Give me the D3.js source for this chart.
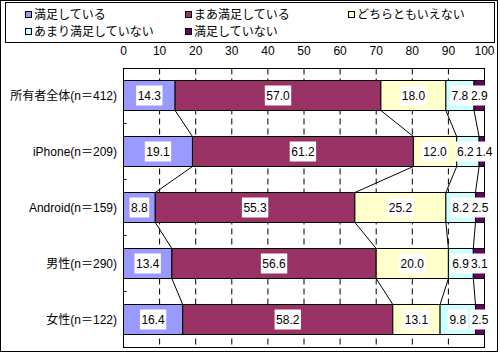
<!DOCTYPE html>
<html>
<head>
<meta charset="utf-8">
<script src="https://cdn.jsdelivr.net/npm/d3@7"></script>
<style>
  body { margin: 0; background: #fff; }
  svg text { font-family: "Liberation Sans", "Noto Sans CJK JP", sans-serif; font-size: 12px; fill: #000; }
</style>
</head>
<body>
<svg id="chart" width="500" height="353"></svg>
<script>
// categories (top to bottom)
const categories = ["所有者全体(n＝412)", "iPhone(n＝209)", "Android(n＝159)", "男性(n＝290)", "女性(n＝122)"];
const seriesNames = ["満足している", "まあ満足している", "どちらともいえない", "あまり満足していない", "満足していない"];
const seriesColors = ["#9999ff", "#993366", "#ffffcc", "#ccffff", "#660066"];

// percentages per category, one array per series
const satisfied     = [14.3, 19.1, 8.8, 13.4, 16.4];
const fairly        = [57.0, 61.2, 55.3, 56.6, 58.2];
const neutral       = [18.0, 12.0, 25.2, 20.0, 13.1];
const notReally     = [7.8, 6.2, 8.2, 6.9, 9.8];
const notSatisfied  = [2.9, 1.4, 2.5, 3.1, 2.5];
const tickValues = [0, 10, 20, 30, 40, 50, 60, 70, 80, 90, 100];

const series = [satisfied, fairly, neutral, notReally, notSatisfied];

const svg = d3.select("#chart");

// outer frame
svg.append("rect")
    .attr("x", 0.5).attr("y", 0.5)
    .attr("width", 497).attr("height", 351)
    .attr("fill", "#fff").attr("stroke", "#000");

// legend
const legend = svg.append("g");
legend.append("rect")
    .attr("x", 5.5).attr("y", 2.5)
    .attr("width", 489).attr("height", 40)
    .attr("fill", "#fff").attr("stroke", "#000");

const legendPos = [[25, 15], [185, 15], [348, 15], [25, 32], [185, 32]];
seriesNames.forEach((name, i) => {
    const g = legend.append("g").attr("transform", `translate(${legendPos[i][0]}, ${legendPos[i][1]})`);
    g.append("rect")
        .attr("x", 0.5).attr("y", -3.5)
        .attr("width", 6).attr("height", 6)
        .attr("fill", seriesColors[i]).attr("stroke", "#000");
    g.append("text")
        .attr("x", 9).attr("y", 0)
        .attr("dominant-baseline", "central")
        .text(name);
});

// scales
const x = d3.scaleLinear().domain([0, 100]).range([123, 484]);
const y = d3.scaleBand()
    .domain(categories)
    .range([67, 347])
    .paddingInner(26 / 56)
    .paddingOuter(13 / 56);

const plot = svg.append("g").attr("transform", "translate(0.5, 0.5)");

// dashed grid
plot.selectAll(".grid")
    .data(tickValues.slice(1, -1))
    .enter()
    .append("line")
    .attr("class", "grid")
    .attr("x1", d => x(d)).attr("x2", d => x(d))
    .attr("y1", 68).attr("y2", 347)
    .attr("stroke", "#000")
    .attr("stroke-dasharray", "6,4");

// top axis labels
svg.append("g")
    .selectAll("text")
    .data(tickValues)
    .enter()
    .append("text")
    .attr("x", d => x(d) + 0.5)
    .attr("y", 51)
    .attr("text-anchor", "middle")
    .attr("dominant-baseline", "central")
    .text(d => d);

// stacked data
const stacked = categories.map((c, ci) => {
    let acc = 0;
    return series.map((s, si) => {
        const start = acc;
        acc += s[ci];
        return { cat: c, si: si, value: s[ci], x0: start, x1: acc };
    });
});

// series lines between consecutive bars
for (let ci = 0; ci < categories.length - 1; ci++) {
    for (let k = 0; k < series.length - 1; k++) {
        plot.append("line")
            .attr("x1", x(stacked[ci][k].x1))
            .attr("y1", y(categories[ci]) + y.bandwidth())
            .attr("x2", x(stacked[ci + 1][k].x1))
            .attr("y2", y(categories[ci + 1]))
            .attr("stroke", "#000");
    }
}

// bars
const rows = plot.selectAll(".row")
    .data(stacked)
    .enter()
    .append("g")
    .attr("class", "row");

rows.selectAll("rect")
    .data(d => d)
    .enter()
    .append("rect")
    .attr("x", d => x(d.x0))
    .attr("y", d => y(d.cat))
    .attr("width", d => x(d.x1) - x(d.x0))
    .attr("height", y.bandwidth())
    .attr("fill", d => seriesColors[d.si])
    .attr("stroke", "#000");

// plot frame and left ticks
plot.append("rect")
    .attr("x", x(0)).attr("y", 68)
    .attr("width", x(100) - x(0)).attr("height", 279)
    .attr("fill", "none").attr("stroke", "#000");

plot.selectAll(".ytick")
    .data(categories.slice(1))
    .enter()
    .append("line")
    .attr("class", "ytick")
    .attr("x1", x(0)).attr("x2", x(0) + 3)
    .attr("y1", d => y(d) - 13).attr("y2", d => y(d) - 13)
    .attr("stroke", "#000");

// category labels
svg.selectAll(".cat")
    .data(categories)
    .enter()
    .append("text")
    .attr("class", "cat")
    .attr("x", 117)
    .attr("y", d => y(d) + y.bandwidth() / 2 + 0.5)
    .attr("text-anchor", "end")
    .attr("dominant-baseline", "central")
    .text(d => d);

// value labels with white boxes; nudge apart when neighbours collide
const labels = svg.append("g");
stacked.forEach(row => {
    const items = row.map(d => {
        const g = labels.append("g");
        const box = g.append("rect").attr("fill", "#fff");
        const t = g.append("text")
            .attr("text-anchor", "middle")
            .attr("dominant-baseline", "central")
            .text(d.value.toFixed(1));
        const w = t.node().getComputedTextLength();
        return { d, box, t, w, cx: x((d.x0 + d.x1) / 2) + 0.5 };
    });
    for (let i = 1; i < items.length; i++) {
        const a = items[i - 1], b = items[i];
        const gap = (b.cx - b.w / 2 - 1) - (a.cx + a.w / 2 + 1);
        if (gap < 0) {
            a.cx += gap / 2;
            b.cx -= gap / 2;
        }
    }
    items.forEach(it => {
        const cy = y(it.d.cat) + y.bandwidth() / 2 + 0.5;
        it.t.attr("x", it.cx).attr("y", cy);
        it.box.attr("x", it.cx - it.w / 2 - 1.5).attr("y", cy - 10)
            .attr("width", it.w + 3).attr("height", 20);
    });
});
</script>
</body>
</html>
